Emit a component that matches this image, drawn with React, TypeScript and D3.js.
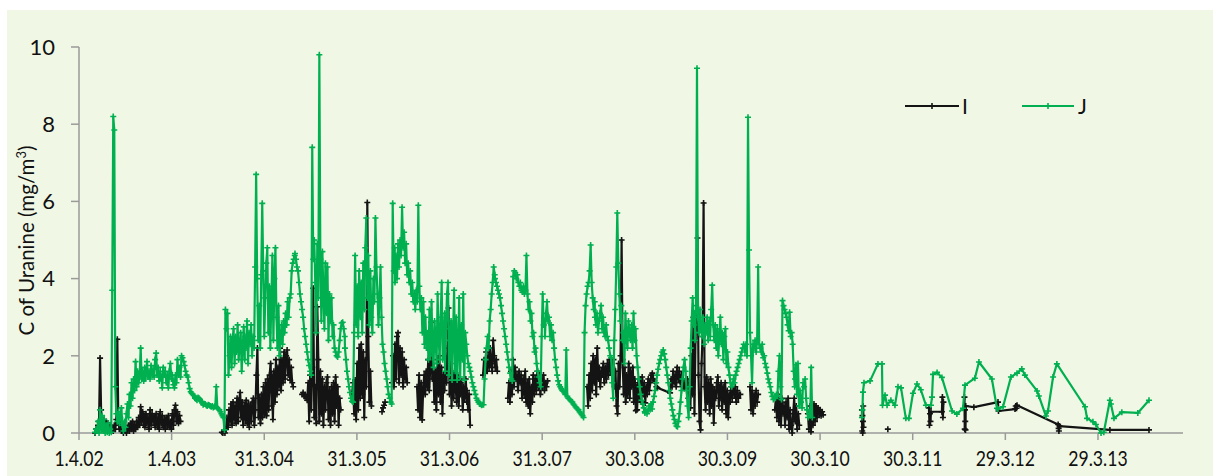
import React from "react";
import * as d3 from "d3";

// ---- time base -------------------------------------------------------------
const ORIGIN = Date.UTC(2002, 3, 1); // 1.4.2002
const DAY_MS = 86400000;
const RUN_STEP = 4; // days between consecutive samples inside a run
const AXIS_END_DAY = 4350;
const TICK_EVERY_DAYS = 365;

const xTickLabels = [
  "1.4.02", "1.4.03", "31.3.04", "31.3.05", "31.3.06", "31.3.07",
  "30.3.08", "30.3.09", "30.3.10", "30.3.11", "29.3.12", "29.3.13",
];
const yTickValues = [0, 2, 4, 6, 8, 10];

// A segment is a connected piece of line. Items are either a single
// measurement [day, value] or a run [startDay, values[]] sampled every RUN_STEP days.
type Item = [number, number] | [number, number[]];

// ---- series I --------------------------------------------------------------
const seriesI: Item[][] = [
  [
    [63, [0,0.1,0.05,0.2,0.3,1.94,0.6,0.3,0.15,0.35, 0.2,0.3,0.1,0.25,0.05,0.2,0.1,0.15,0.05,0.2, 0.1,0.35,2.43,0.3,0.1,0.2,0.05,0.15,0,0.1, 0.05,0,0.1,0.2,0.05,0.25,0.1,0.3,0.05,0.2, 0.1,0.3,0.15,0.4,0.2,0.68,0.3,0.55,0.2,0.45]],
    [260, [0.15,0.5,0.25,0.4,0.1,0.6,0.2,0.5,0.3,0.45, 0.15,0.5,0.2,0.4,0.1,0.55,0.25,0.45,0.15,0.35, 0.1,0.4,0.2,0.45,0.15,0.3,0.1,0.5,0.2,0.6, 0.72,0.3,0.55,0.25,0.45,0.3]],
  ],
  [
    [563, [0.02,0,0.05,0,0.1,0.4,0.15,0.6,0.3,0.75, 0.2,0.8,0.35,0.7,0.25,0.9,0.3,0.85,1.05,0.4, 0.8,0.2,0.7,0.35,0.85,0.25,0.75,0.15,0.7,0.3, 0.8,0.9,0.2,0.6,1.5,2.2,0.4,0.9,0.25,1, 0.4,1.2,0.5,1.3,0.45,1.4,0.6,1.5,1.8,0.7]],
    [760, [1.5,0.35,1.6,0.8,1.9,1,1.7,1.2,2.2,1.1, 1.9,1.3,2.1,1.4,2,2.15,1.5,1.9,1.37,1.7, 1.3,1.2]],
  ],
  [[879, [1,1.05,0.95,1,0.9,0.85,1.3,0.3,1.5,0.6, 1.7,3.75,0.4,1.2,0.25,3.27,1.9,0.3,1.6,0.5, 1.4,0.2,1.2,0.6,1.3,1.45,0.35,1.1,0.2,1.2, 0.5,1.3,0.3,1.45,0.7,1.2,0.2,0.9,0.6]]],
  [[1076, [1,1.3,0.5,1.37,0.35,1.8,0.6,2.2,0.9,2.3, 1,2.1,0.4,1.9,1.2,5.97,2.5,0.8,1.6,0.7]]],
  [[1194, [0.55,0.65,0.72,0.8]]],
  [[1233, [1.3,2,1.2,2.3,1.4,2.5,2.6,1.3,2.2,1.5, 2.1,1.2,1.9,1.4,1.7,1.3]]],
  [
    [1332, [1.2,0.6,1.5,0.4,1.3,0.34,1.1,1.5,1,1.6, 1.2,1.9,1.1,1.7,2.87,1.4,1.8,0.8,1.6,0.6, 1.9,1,2,0.8,1.7,0.5,1.5,1.1,2,1.3, 2.2,3.24,1,1.8,0.7,1.5,0.9,1.6,1.2,0.8, 1.5,0.7,1.4,1,1.3,0.6,1.2,0.9,1.4,0.8]],
    [1529, [1.1,0.6,1,0.2]],
  ],
  [[1592, [1.5,1.9,1.55,2.1,1.6,2,1.7,2.2,1.8,1.6, 2.4,2,1.7,1.9,1.6]]],
  [[1690, [0.9,1.3,0.8,1.6,1,1.9,1.2,1.7,1.4,1.5, 1.1,1.6,1.3,1.5,0.9,1.4,1,1.6,0.8,1.3, 0.7,1.4,0.5,1.2,0.8,1.5,1,1.4,1.1,1.6, 1.2,1.5,1,1.4,1.2,1.5,1.1,1.3,1.2,1.35]]],
  [
    [2002, [1.2,0.7,1.5,0.9,1.8,1.1,2,1.3,1.9,1, 2.2,1.4,1.7,1.2,1.6,1.5,1.8,1.3,1.7,1.4, 1.8,1.5,1.9,1.6,1.8,1.7,1.9,1.2,1.6,0.7, 0.5,1.8,1.2,2,5,1.9,1,1.7,0.8,1.5, 1,1.8,0.9,1.6,1.2,1.7,0.8,1.4,0.58,1.2]],
    [2199, [0.6,1.3,0.9,1.4,0.8,1.45,1,1.3,0.78,1.2, 1,1.4,1.1,1.3,1.5,1.55,1.4,1.35,1.3,1.2, 1.17]],
    [2329, [1.04,1.4,1.2,1.6,1.3,1.5,1.2,1.7,1.4,1.6, 1.3,1.5,1.2,1.4,1.15,1.3,1.2,1.4,0.9,1.3, 0.65,2,1,3,0.5,2.4,3.15,5.05,1.5,0.3, 0.08,1.8,2.5,5.96,1.2,0.6,1.45,0.8,1.3,0.5, 1.4,0.7,1.2,0.26,1.1,0.9,1.3,1.45,0.7,1.2]],
    [2526, [0.9,1.3,0.6,1.2,0.8,1.3,0.5,1.1,0.4,1, 0.8,1.2,0.9,1.1,1,1.2,0.8,1.1,0.9,1, 1]],
  ],
  [[2644, [1.2,0.6,1.1,0.5,1,0.7,1.1,0.8,1]]],
  [[2742, [0.6,0.9,0.4,1,0.3,0.8,0.2,0.9,0.5,0.7, 0.2,0.8,0.4,0.9,0.1,0.6,0.2,0,0.5,0.9, 0.3,0.7,0.1,0.5,0.2]]],
  [[2872, [0.5,0.1,0.7,0.03,0.6,0.2,0.75,0.3,0.7,0.4, 0.65,0.5,0.6,0.45,0.55,0.47]]],
  [[3085,0.6],[3086,0.05],[3087,0.45],[3088,0],[3089,0.3],[3090,0.7],[3091,0.15]],
  [[3187,0.1]],
  [[3349,0.65],[3351,0.2],[3353,0.5],[3355,0.3],[3357,0.55],[3400,0.55],[3402,0.93],[3404,0.4],[3406,0.8]],
  [[3489,0.93],[3490,0.1],[3491,0.6],[3492,0.3],[3493,0.08],[3494,0.7],[3526,0.67],[3621,0.8],[3623,0.57],[3688,0.62],[3691,0.7],[3694,0.64],[3696,0.72],[3858,0.22],[3860,0.12],[3861,0.05],[3863,0.18],[4062,0.08],[4216,0.08]],
];

// ---- series J --------------------------------------------------------------
const seriesJ: Item[][] = [
  [
    [63, [0.02,0.1,0.05,0.3,0,0.6,0.1,0.45,0.05,0.35, 0,0.2,0.02,0.25,0,0.1,0.02,3.7,8.2,7.85, 1.2,0.5,0.3,0.55,0.25,0.4,0.65,0.2,0.05,0.3, 0.15,0.5,0.75,0.4,1,0.7,1.3,0.9,1.4,1.1, 1.85,1.2,1.6,1.3,1.5,2.2,1.4,1.6,1.35,1.7]],
    [260, [1.4,1.55,1.85,1.45,1.6,1.4,1.75,1.5,1.65,1.45, 1.9,2.07,1.5,1.7,1.35,1.6,1.45,1.17,1.7,1.5, 1.6,1.3,1.5,1.17,1.6,1.8,1.4,1.5,1.25,1.17, 1.5,1.3,1.9,1.5,1.7,1.45,2,1.95,1.85,1.75, 1.6,1.5,1.45,1.3,1.15,1.07,1.03,1,0.97,0.95]],
    [457, [0.9,0.88,0.85,0.92,0.9,0.87,0.82,0.78,0.73,0.76, 0.75,0.72,0.7,0.73,0.72,0.7,0.68,0.7,0.66,0.68, 0.7,1.2,0.65,0.62,0.6,0.55,0.5,0.45,0.4,0.08, 3.2,2.7,3.1,1.5,2,2.5,1.7,2.4,2.7,1.8, 2.5,2.1,2.8,1.9,2.3,2.6,1.6,2.2,2.75,1.9]],
    [654, [2.5,2.2,2.9,1.8,2.6,2.3,2.8,2,2.5,2.2, 4.3,6.7,4,2.4,3.3,2.2,4.1,5.95,4.2,2.5, 3.5,4.4,4.8,2.6,3.8,2.2,3.5,4.6,2.4,4, 4.8,3,2.2,3.3,2,2.4,2.8,2.3,2.9,2.6, 3.1,2.8,3.4,3,3.5,3.6,4.2,4.4,4.5,4.6]],
    [851, [4.65,4.5,4.3,4.2,3.9,3.6,3.4,3.2,3,2.7, 2.5,2.3,2.1,1.9,1.75,1.6,1.5,7.4,4.5,5, 3.9,2.6,4.9,3.5,9.8,4.5,2.9,4.7,3.6,2.7, 4.4,3.1,4.3,2.4,3.6,2.9,3.5,2.5,2.8,2.2, 2.1,2,1.97,2.1,2.4,2.7,2.85,2.87,2.7,2.5]],
    [1048, [2.2,1.9,1.6,1.4,1.2,1.05,0.9,0.82,0.8,2.6, 4.6,2.8,3.8,2.5,4.2,3,3.9,2.6,4.4,3.2, 4.8,5.57,3.5,4.6,2.8,4.2,3,2.6,4,3.4, 5.57,4.3,3.6,2.8,3.5,4.3,3,2.3,2.1,1.8, 1.6,1.4,1.2,1,0.9,0.8,0.75,5.95,4.2,4.8]],
    [1245, [3.9,4.6,4,4.9,4.3,5,4.6,5.85,4.8,5.2, 4.4,4.9,4.1,4.4,3.9,4.2,3.6,3.9,3.4,3.6, 3.2,3.7,3.4,5.9,3.8,3.2,3.5,2.6,3.4,2.3, 3,2.2,2.6,1.9,3.2,2,3.4,2.2,1.7,2.9, 2.4,1.8,3.6,2.5,1.9,3,3.9,1.9,2.5,3.1]],
    [1442, [1.6,2.7,3.6,3.9,1.5,2.4,2.9,1.37,2.6,3.7, 1.6,3,1.37,2.2,3.5,1.45,2.8,1.9,3.6,1.37, 2.6,2.3,2,1.8,1.7,1.6,1.45,1.3,1.2,1.1, 1,0.9,0.85,0.8,0.75,0.75,0.72,0.73,0.73,1.4, 1.9,2.2,2.5,2.2,2.9,3.2,3.6,3.9,4.3,4.1]],
    [1639, [4,3.9,3.8,3.7,3.6,3.5,3.3,3.1,2.9,2.7, 2.5,2.3,2.1,1.9,1.7,1.55,1.4,1.35,4.05,4.2, 4.15,4,4.1,3.9,3.8,3.9,3.7,3.65,3.8,3.6, 3.7,4.6,3.6,3.2,3.4,2.9,3.1,2.5,2.6,2.1, 2.2,1.8,1.6,1.45,1.3,1.2,2.5,3.6,2.8,2.9]],
    [1836, [2.5,3.1,3.4,2.9,3,2.5,2.8,2.4,2.6,2.2, 1.9,1.7,1.5,1.35,1.25,1.2,1.15,1.1,1.08,1.05, 1,2.15,0.95,0.9,0.88,0.85,0.82,0.8,0.75,0.72, 0.68,0.65,0.62,0.6,0.55,0.52,0.48,0.45,0.4,2.6, 3.3,3.6,3.8,3.9,4.2,4.87,3.9,3.5,3.2,3.4]],
    [2033, [3,2.8,3.1,2.6,2.9,3.1,3.3,2.7,3,2.6, 2.5,2.8,2.5,2.4,2.2,2,1.95,1.3,0.9,2.4, 3.2,4.3,5.7,4.4,3.6,2.9,3.3,2.4,2.6,1.8, 3.1,2.5,2.2,2.9,2.6,2.4,2.8,2.2,3.1,2.4, 2.7,2,1.7,1.4,1.2,1,0.85,0.75,0.65,0.55]],
    [2230, [0.52,0.6,0.5,0.58,0.7,0.6,0.75,0.62,0.8,0.95, 1.1,1.3,1.5,1.65,1.8,1.9,2,2.1,2.15,2.05, 1.9,1.7,1.5,1.3,1.1,0.9,0.75,0.6,0.45,0.35, 0.25,0.18,0.16,0.3,0.5,0.8,1.1,1.4,1.7,1.9, 1.6,1.1,0.7,0.4,1.2,2.2,2.9,3.5,2.8,3.1]],
    [2427, [2.4,3.3,9.45,3,2.6,3.2,2.7,2.5,3,2.3, 2.8,2.6,3,2.4,2.9,2.5,3.2,3.83,2.8,2.4, 2.8,2.2,2.7,2,2.5,3,2.3,2.6,1.9,2.5, 2.7,1.8,2.1,1.7,1.5,1.3,1.2,1.25,1.4,1.3, 1.5,1.6,1.7,1.8,1.9,2,2.1,2.2,2.3,2.2]],
    [2624, [2.1,2.3,2,8.18,4.74,2.6,2,1.3,2.3,2.2, 2.4,2.1,2.4,4.3,2.3,2.2,2.1,2.3,1.95,2, 1.8,1.7,1.55,1.4,1.3,1.2,1.05,0.95,0.87,0.95, 0.9,1,0.95,1.6,2,1.2,0.87,3.43,3.3,3.2, 3.1,3,2.8,2.65,3.13,2.5,2.6,2.3,1.6,1.2]],
    [2821, [1.4,1.77,1,1.8,0.7,1.1,0.8,0.65,1.3,1.2, 1.4,0.9,0.6,0.4,0.5,0.45,1.7,0.4]],
  ],
  [
    [3085,0.4],[3087,0.6],[3089,1.06],[3093,1.3],[3117,1.35],[3148,1.79],[3164,1.79],[3166,0.72],
    [3176,0.98],[3184,0.72],[3199,0.85],[3215,0.72],[3227,1.2],[3239,1.17],[3258,0.38],[3270,0.38],
    [3286,1.03],[3302,1.27],[3317,1.12],[3337,0.72],[3357,0.72],[3361,0.93],[3365,1.52],[3381,1.57],
    [3400,1.44],[3440,0.57],[3459,0.49],[3483,0.64],[3491,1.24],[3530,1.42],[3546,1.84],[3597,1.4],
    [3617,0.64],[3621,0.62],[3641,0.68],[3672,1.45],[3696,1.55],[3715,1.66],[3727,1.5],[3775,1.09],
    [3782,0.96],[3810,0.44],[3818,0.57],[3838,1.45],[3853,1.79],[3964,0.68],[3972,0.38],[3995,0.29],
    [4007,0.22],[4027,0],[4038,0.02],[4062,0.85],[4066,0.75],[4078,0.38],[4109,0.54],[4172,0.52],[4216,0.85],
  ],
];

const COLOR_I = "#141414";
const COLOR_J = "#00B050";
const FONT = "Lato, 'Open Sans', sans-serif";

const toDate = (day: number) => new Date(ORIGIN + day * DAY_MS);

function expand(seg: Item[]): [Date, number][] {
  const pts: [Date, number][] = [];
  for (const [start, v] of seg) {
    if (Array.isArray(v)) v.forEach((val, k) => pts.push([toDate(start + k * RUN_STEP), val]));
    else pts.push([toDate(start), v as number]);
  }
  return pts;
}

export default function App() {
  const x = d3.scaleUtc().domain([toDate(0), toDate(AXIS_END_DAY)]).range([79, 1183]);
  const y = d3.scaleLinear().domain([0, 10]).range([433, 47]);
  const line = d3.line<[Date, number]>().x((d) => x(d[0])).y((d) => y(d[1]));

  const plus = (px: number, py: number, r: number) =>
    `M${px - r},${py}h${2 * r}M${px},${py - r}v${2 * r}`;

  const renderSeries = (segments: Item[][], color: string, key: string) => {
    const segPts = segments.map(expand);
    const markers = segPts
      .flat()
      .map(([d, v]) => plus(x(d), y(v), 3))
      .join("");
    return (
      <g key={key}>
        {segPts.map((pts, i) => (
          <path key={i} d={line(pts) || ""} fill="none" stroke={color} strokeWidth={2.2} strokeLinejoin="round" />
        ))}
        <path d={markers} fill="none" stroke={color} strokeWidth={1.6} />
      </g>
    );
  };

  const xTicks = xTickLabels.map((label, i) => ({ label, date: toDate(i * TICK_EVERY_DAYS) }));
  const axisColor = "#9a9a9a";

  return (
    <svg
      width={1213}
      height={476}
      style={{ position: "absolute", left: 0, top: 0, display: "block" }}
      fontFamily={FONT}
    >
      <rect x={0} y={0} width={1213} height={476} fill="#ffffff" />
      <rect x={7} y={10} width={1206} height={466} fill="#F0F8E5" />

      {/* y axis */}
      <line x1={79} x2={79} y1={y(10)} y2={y(0)} stroke={axisColor} strokeWidth={1.5} />
      {yTickValues.map((v) => (
        <g key={v}>
          <line x1={71} x2={79} y1={y(v)} y2={y(v)} stroke={axisColor} strokeWidth={1.5} />
          <text x={55} y={y(v) + 7.8} textAnchor="end" fontSize={22} fill="#111">
            {v}
          </text>
        </g>
      ))}
      <text
        transform={`translate(34,240.5) rotate(-90)`}
        textAnchor="middle"
        fontSize={20.5}
        fill="#111"
      >
        C of Uranine (mg/m<tspan baselineShift="super" fontSize={13}>3</tspan>)
      </text>

      {/* x axis */}
      <line x1={79} x2={1183} y1={y(0)} y2={y(0)} stroke={axisColor} strokeWidth={1.5} />
      {xTicks.map((t) => (
        <g key={t.label}>
          <line x1={x(t.date)} x2={x(t.date)} y1={y(0)} y2={y(0) + 7} stroke={axisColor} strokeWidth={1.5} />
          <text
            transform={`translate(${x(t.date)},466) scale(0.82,1)`}
            textAnchor="middle"
            fontSize={21.5}
            fill="#111"
          >
            {t.label}
          </text>
        </g>
      ))}

      {renderSeries(seriesI, COLOR_I, "I")}
      {renderSeries(seriesJ, COLOR_J, "J")}

      {/* legend */}
      <g>
        <line x1={905} x2={959} y1={106} y2={106} stroke={COLOR_I} strokeWidth={2.2} />
        <path d={plus(932, 106, 3)} stroke={COLOR_I} strokeWidth={1.6} />
        <text x={962} y={113.5} fontSize={21} fill="#111">I</text>
        <line x1={1022} x2={1074} y1={106} y2={106} stroke={COLOR_J} strokeWidth={2.2} />
        <path d={plus(1048, 106, 3)} stroke={COLOR_J} strokeWidth={1.6} />
        <text x={1078} y={113.5} fontSize={21} fill="#111">J</text>
      </g>
    </svg>
  );
}
